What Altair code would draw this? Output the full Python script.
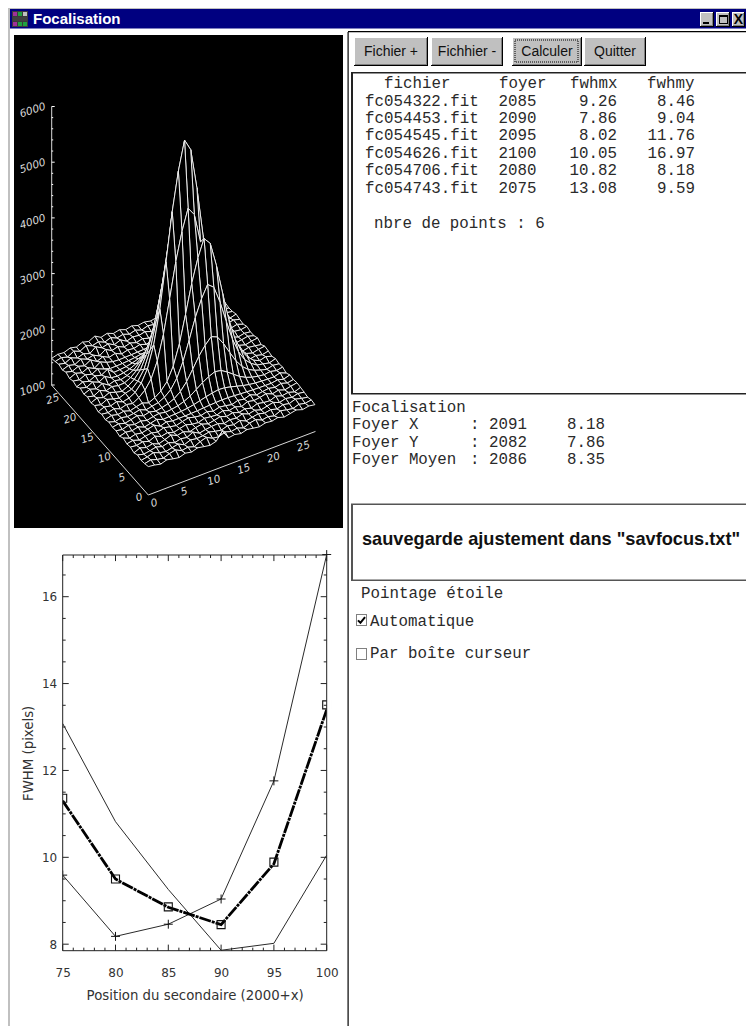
import altair as alt
import pandas as pd

W, H = 738, 1018
OX, OY = 8, 8

# ---- table contents -------------------------------------------------
files = ["fc054322.fit", "fc054453.fit", "fc054545.fit", "fc054626.fit", "fc054706.fit", "fc054743.fit"]
foyer = ["2085", "2090", "2095", "2100", "2080", "2075"]
fwhmx_txt = ["9.26", "7.86", "8.02", "10.05", "10.82", "13.08"]
fwhmy_txt = ["8.46", "9.04", "11.76", "16.97", "8.18", "9.59"]
foc_names = ["Foyer X", "Foyer Y", "Foyer Moyen"]
foc_pos = ["2091", "2082", "2086"]
foc_fwhm = ["8.18", "7.86", "8.35"]
buttons = ["Fichier +", "Fichhier -", "Calculer", "Quitter"]

# ---- FWHM curves ----------------------------------------------------
position = [75, 80, 85, 90, 95, 100]
fwhm_x = [13.08, 10.82, 9.26, 7.86, 8.02, 10.05]
fwhm_y = [9.59, 8.18, 8.46, 9.04, 11.76, 16.97]
fwhm_fit = [11.30, 9.50, 8.85, 8.45, 9.85, 13.40]
fwhm_mean = [11.36, 9.50, 8.86, 8.45, 9.89, 13.51]
x_major = [75, 80, 85, 90, 95, 100]
x_minor = [76, 77, 78, 79, 81, 82, 83, 84, 86, 87, 88, 89, 91, 92, 93, 94, 96, 97, 98, 99]
y_major = [8, 10, 12, 14, 16]
y_minor = [8.5, 9, 9.5, 10.5, 11, 11.5, 12.5, 13, 13.5, 14.5, 15, 15.5, 16.5]

# ---- surface heights, front row first ------
surface = [
 [1510,1495,1470,1505,1480,1462,1498,1475,1510,1488,1470,1500,1640,1478,1495,1470,1500,1482,1465,1495,1480,1505,1470,1492,1515,1478,1500,1482],
 [1490,1515,1480,1460,1500,1525,1470,1490,1455,1505,1540,1480,1465,1510,1475,1495,1455,1500,1520,1470,1490,1460,1510,1485,1465,1500,1475,1495],
 [1475,1495,1530,1485,1465,1490,1515,1460,1505,1485,1495,1520,1490,1470,1505,1480,1515,1465,1490,1510,1478,1500,1468,1505,1482,1520,1490,1470],
 [1500,1470,1490,1515,1480,1510,1465,1495,1475,1530,1468,1490,1505,1512,1470,1500,1485,1520,1475,1500,1465,1490,1515,1470,1500,1478,1505,1488],
 [1465,1510,1475,1500,1455,1490,1530,1480,1505,1460,1495,1515,1478,1498,1525,1482,1510,1470,1495,1465,1505,1480,1470,1510,1475,1495,1460,1500],
 [1495,1480,1505,1470,1520,1475,1500,1460,1490,1515,1482,1470,1505,1490,1480,1515,1475,1500,1462,1510,1485,1500,1525,1478,1505,1465,1490,1510],
 [1480,1500,1462,1490,1505,1480,1515,1490,1470,1500,1525,1495,1480,1510,1475,1505,1490,1465,1500,1480,1515,1470,1490,1505,1480,1510,1475,1495],
 [1510,1465,1495,1475,1500,1530,1470,1505,1481,1483,1484,1488,1493,1501,1509,1515,1520,1518,1511,1503,1495,1489,1485,1483,1481,1500,1470,1505],
 [1470,1500,1485,1510,1465,1490,1520,1475,1483,1488,1495,1509,1530,1558,1588,1612,1630,1623,1597,1566,1536,1513,1498,1489,1483,1480,1510,1465],
 [1495,1475,1510,1480,1500,1470,1495,1512,1488,1500,1520,1556,1612,1688,1768,1832,1880,1860,1792,1708,1628,1568,1528,1504,1488,1505,1478,1500],
 [1485,1505,1470,1495,1525,1480,1505,1478,1499,1528,1576,1662,1795,1977,2168,2321,2436,2388,2226,2025,1834,1690,1595,1537,1499,1470,1500,1485],
 [1505,1470,1500,1475,1490,1515,1470,1495,1516,1571,1662,1826,2081,2426,2790,3082,3300,3209,2900,2517,2153,1880,1698,1589,1516,1495,1470,1505],
 [1475,1510,1480,1500,1465,1495,1520,1480,1531,1609,1737,1969,2329,2817,3332,3743,4052,3923,3486,2946,2432,2046,1789,1634,1531,1480,1510,1475],
 [1500,1485,1515,1470,1505,1480,1543,1636,1793,2074,2512,3106,3731,4232,4607,4451,3919,3262,2637,2168,1855,1668,1543,1510,1475,1500,1470,1495],
 [1470,1515,1490,1525,1480,1505,1566,1694,1908,2293,2891,3704,4559,5244,5757,5543,4816,3918,3062,2421,1993,1737,1566,1485,1505,1470,1495,1510],
 [1510,1480,1535,1500,1475,1520,1548,1650,1820,2126,2602,3248,3928,4472,4880,4710,4132,3418,2738,2228,1888,1684,1548,1510,1475,1500,1485,1465],
 [1485,1530,1495,1545,1505,1480,1532,1610,1740,1974,2338,2832,3352,3768,4080,3950,3508,2962,2442,2052,1792,1636,1532,1480,1505,1470,1495,1510],
 [1520,1490,1550,1500,1535,1510,1516,1570,1660,1822,2074,2416,2776,3064,3280,3190,2884,2506,2146,1876,1696,1588,1516,1500,1470,1490,1510,1478],
 [1495,1540,1505,1560,1490,1525,1501,1533,1585,1680,1827,2026,2236,2404,2530,2478,2299,2079,1869,1711,1606,1543,1501,1480,1505,1465,1490,1475],
 [1530,1500,1555,1510,1570,1505,1491,1508,1535,1585,1662,1766,1876,1964,2030,2003,1909,1794,1684,1601,1546,1513,1491,1505,1470,1495,1480,1500],
 [1480,1525,1495,1550,1520,1585,1485,1493,1505,1528,1563,1610,1660,1700,1730,1718,1675,1623,1573,1535,1510,1495,1485,1470,1500,1478,1505,1465],
 [1510,1490,1540,1505,1560,1515,1482,1485,1489,1497,1510,1527,1545,1559,1570,1566,1550,1531,1513,1500,1491,1485,1482,1505,1470,1490,1510,1480],
 [1485,1535,1500,1550,1495,1570,1520,1490,1481,1484,1488,1492,1498,1504,1510,1508,1502,1496,1490,1485,1482,1475,1500,1468,1495,1480,1470,1500],
 [1525,1495,1545,1510,1575,1505,1550,1495,1525,1470,1500,1485,1515,1475,1505,1490,1465,1510,1480,1500,1470,1495,1478,1505,1485,1465,1495,1475],
 [1490,1530,1500,1560,1515,1545,1490,1565,1500,1530,1480,1510,1475,1505,1470,1495,1515,1480,1495,1465,1505,1475,1490,1510,1470,1500,1480,1465],
 [1520,1495,1550,1505,1540,1500,1580,1520,1550,1490,1535,1470,1505,1490,1515,1475,1500,1465,1490,1510,1480,1500,1470,1495,1478,1462,1505,1480],
 [1495,1525,1490,1555,1510,1570,1525,1555,1505,1545,1495,1520,1480,1510,1470,1505,1485,1495,1470,1500,1475,1490,1510,1465,1495,1480,1470,1490],
 [1480,1510,1500,1540,1515,1560,1530,1585,1520,1550,1505,1530,1490,1515,1480,1500,1475,1495,1465,1490,1505,1470,1495,1480,1465,1490,1475,1480],
]
z_ticks = [1000, 2000, 3000, 4000, 5000, 6000]
xy_ticks = [0, 5, 10, 15, 20, 25]


def px(v):
    return v - OX


def py(v):
    return v - OY


# ---- view of the surface ---------------------------------------------
ORIGIN = (148.3, 495.0)
CELL_X = (6.17, -2.35)
CELL_Y = (-3.58, -4.07)
UNIT_X = (5.97, -2.27)
UNIT_Y = (-3.46, -3.93)
Z_PX = 0.0557


def project(i, j, z):
    return [
        px(ORIGIN[0] + i * CELL_X[0] + j * CELL_Y[0]),
        py(ORIGIN[1] + i * CELL_X[1] + j * CELL_Y[1] - (z - 1000) * Z_PX),
    ]


n = len(surface)
assert all(len(r) == n for r in surface)
features = []
for j in range(n - 2, -1, -1):
    for i in range(n - 2, -1, -1):
        ring = [
            project(i, j, surface[j][i]),
            project(i + 1, j, surface[j][i + 1]),
            project(i + 1, j + 1, surface[j + 1][i + 1]),
            project(i, j + 1, surface[j + 1][i]),
        ]
        ring.append(ring[0])
        features.append({"type": "Feature", "properties": {}, "geometry": {"type": "Polygon", "coordinates": [ring]}})

pix_x = alt.Scale(domain=[0, W], range=[0, W], nice=False, zero=False)
pix_y = alt.Scale(domain=[0, H], range=[0, H], nice=False, zero=False)
X = lambda f: alt.X(f, type="quantitative", scale=pix_x, axis=None)
Y = lambda f: alt.Y(f, type="quantitative", scale=pix_y, axis=None)

# ---- window furniture: painted in order --------------------------------
chrome = []


def box(x0, y0, x1, y1, fill):
    chrome.append({"x0": px(x0), "y0": py(y0), "x1": px(x1), "y1": py(y1), "fill": fill})


GREY = "#c0c0c0"
box(8, 8, 754, 9, GREY)
box(8, 9, 10, 1026, GREY)
box(10, 9, 754, 28.5, "#000080")
box(14, 35, 343, 528, "#000000")
box(347.5, 32, 348.7, 1026, "#000000")
box(348, 31, 754, 32.3, "#000000")

# title bar icon
box(12, 11, 28, 27, "#3a3a3a")
for ix, c in enumerate(["#a0309a", "#20a040", "#c0c0c0"]):
    box(13 + ix * 5, 12, 17 + ix * 5, 16, c)
box(13, 17, 27, 21, "#404040")
for ix, c in enumerate(["#a0309a", "#20a040", "#20a040"]):
    box(13 + ix * 5, 22, 17 + ix * 5, 26, c)

# window buttons
for x0, x1 in [(700, 714), (716, 730), (732, 745)]:
    box(x0, 12, x1, 27, "#000000")
    box(x0, 12, x1 - 1, 26, "#ffffff")
    box(x0 + 1, 13, x1 - 1, 26, "#808080")
    box(x0 + 1, 13, x1 - 2, 25, GREY)
box(703, 22, 709, 24, "#000000")
box(719, 15, 728, 24, "#000000")
box(720, 17, 727, 23, GREY)

# command buttons
btn_x = [(354, 428), (431, 503), (512, 582), (584, 646)]
for x0, x1 in btn_x:
    box(x0, 37, x1, 66, "#000000")
    box(x0, 37, x1 - 1, 65, "#ffffff")
    box(x0 + 1, 38, x1 - 1, 65, "#808080")
    box(x0 + 1, 38, x1 - 2, 64, GREY)

# list box and message box
box(351, 72, 754, 394.5, "#222222")
box(353, 73.5, 754, 393, "#ffffff")
box(351, 503.5, 754, 581, "#555555")
box(353, 505, 754, 579.5, "#ffffff")

# tick boxes
box(356, 614, 367, 626, "#808080")
box(357, 615, 366, 625, "#ffffff")
box(356, 648, 367, 660, "#808080")
box(357, 649, 366, 659, "#ffffff")

layers = [
    alt.Chart(pd.DataFrame(chrome)).mark_rect(strokeWidth=0).encode(
        x=X("x0"), x2=alt.X2("x1"), y=Y("y0"), y2=alt.Y2("y1"),
        fill=alt.Fill("fill:N", scale=None, legend=None),
    )
]

INK = "#2a2a2a"


def label(txt, x, y, font="Liberation Mono", size=15.8, align="left", color=INK, weight="normal", angle=0):
    return alt.Chart().mark_text(
        font=font, fontSize=size, align=align, baseline="middle", color=color, fontWeight=weight, angle=angle
    ).encode(x=alt.value(px(x)), y=alt.value(py(y)), text=alt.value(txt))


layers.append(label("Focalisation", 33, 19, font="Liberation Sans", size=15, color="#ffffff", weight="bold"))
layers.append(label("X", 738.5, 19.5, font="Liberation Sans", size=14, align="center", color="#000000", weight="bold"))

for (x0, x1), t in zip(btn_x, buttons):
    layers.append(label(t, (x0 + x1) / 2, 52, font="Liberation Sans", size=14, align="center", color="#111111"))

layers.append(
    alt.Chart().mark_rect(fillOpacity=0, stroke="#000000", strokeDash=[1, 1], strokeWidth=1).encode(
        x=alt.value(px(515)), x2=alt.value(px(578)), y=alt.value(py(40)), y2=alt.value(py(62))
    )
)

# file table
table = pd.DataFrame({"row": range(len(files)), "file": files, "foyer": foyer, "fx": fwhmx_txt, "fy": fwhmy_txt})
row_y = alt.Y("row:Q", scale=alt.Scale(domain=[0, 5], range=[py(100.5), py(187.5)], nice=False, zero=False), axis=None)
mono = dict(font="Liberation Mono", fontSize=15.8, baseline="middle", color=INK)
layers.append(alt.Chart(table).mark_text(align="left", **mono).encode(x=alt.value(px(365)), y=row_y, text="file:N"))
layers.append(alt.Chart(table).mark_text(align="left", **mono).encode(x=alt.value(px(498.5)), y=row_y, text="foyer:N"))
layers.append(alt.Chart(table).mark_text(align="right", **mono).encode(x=alt.value(px(617)), y=row_y, text="fx:N"))
layers.append(alt.Chart(table).mark_text(align="right", **mono).encode(x=alt.value(px(695)), y=row_y, text="fy:N"))
for t, x in [("fichier", 384), ("foyer", 499), ("fwhmx", 570), ("fwhmy", 647)]:
    layers.append(label(t, x, 83))
layers.append(label("nbre de points : 6", 374, 223))

# focus result
layers.append(label("Focalisation", 352, 406.5))
foc = pd.DataFrame({"row": range(3), "name": foc_names, "pos": [": " + p for p in foc_pos], "w": foc_fwhm})
foc_y = alt.Y("row:Q", scale=alt.Scale(domain=[0, 2], range=[py(424), py(459)], nice=False, zero=False), axis=None)
layers.append(alt.Chart(foc).mark_text(align="left", **mono).encode(x=alt.value(px(352)), y=foc_y, text="name:N"))
layers.append(alt.Chart(foc).mark_text(align="left", **mono).encode(x=alt.value(px(470)), y=foc_y, text="pos:N"))
layers.append(alt.Chart(foc).mark_text(align="left", **mono).encode(x=alt.value(px(567)), y=foc_y, text="w:N"))

layers.append(label('sauvegarde ajustement dans "savfocus.txt"', 362, 540, font="Liberation Sans", size=18.2, weight="bold", color="#111111"))
layers.append(label("Pointage étoile", 361, 593))
layers.append(label("Automatique", 370, 620.5))
layers.append(label("Par boîte curseur", 370, 653))
layers.append(
    alt.Chart().mark_point(shape="M-1,0.1L-0.3,0.8L1,-0.8", filled=False, stroke="#000000", strokeWidth=2, size=50, opacity=1).encode(
        x=alt.value(px(361.5)), y=alt.value(py(620))
    )
)

# ---- surface -------------------------------------------------------------
layers.append(
    alt.Chart(alt.InlineData(values={"type": "FeatureCollection", "features": features},
                             format=alt.DataFormat(property="features", type="json")))
    .mark_geoshape(fill="#000000", stroke="#ececec", strokeWidth=1)
    .project(type="identity", scale=1, translate=[0, 0])
)

# axes of the surface
Z_AXIS_X = 51.7
Z_AXIS_BASE = 385.0
end_x = (ORIGIN[0] + 28 * UNIT_X[0], ORIGIN[1] + 28 * UNIT_X[1])
end_y = (ORIGIN[0] + 28 * UNIT_Y[0], ORIGIN[1] + 28 * UNIT_Y[1])
seg = pd.DataFrame(
    [
        {"x": px(end_x[0]), "y": py(end_x[1]), "x2": px(ORIGIN[0]), "y2": py(ORIGIN[1])},
        {"x": px(ORIGIN[0]), "y": py(ORIGIN[1]), "x2": px(end_y[0]), "y2": py(end_y[1])},
        {"x": px(end_y[0]), "y": py(end_y[1]), "x2": px(Z_AXIS_X), "y2": py(Z_AXIS_BASE)},
        {"x": px(Z_AXIS_X), "y": py(Z_AXIS_BASE), "x2": px(Z_AXIS_X), "y2": py(Z_AXIS_BASE - 5000 * Z_PX)},
    ]
)
layers.append(
    alt.Chart(seg).mark_rule(color="#d8d8d8", strokeWidth=1).encode(x=X("x"), y=Y("y"), x2=alt.X2("x2"), y2=alt.Y2("y2"))
)
z_tick_rows = []
for k in range(0, 26):
    z = 1000 + k * 200
    yy = py(Z_AXIS_BASE - (z - 1000) * Z_PX)
    ln = 3 if k % 5 == 0 else 1.5
    z_tick_rows.append({"x": px(Z_AXIS_X), "x2": px(Z_AXIS_X + ln), "y": yy})
layers.append(
    alt.Chart(pd.DataFrame(z_tick_rows)).mark_rule(color="#ffffff", strokeWidth=1).encode(x=X("x"), x2=alt.X2("x2"), y=Y("y"))
)
tick_font = dict(font="DejaVu Sans", fontSize=10.5, fontStyle="italic", color="#d8d8d8", baseline="middle", align="center", angle=342)
z_lab = pd.DataFrame({"t": [str(v) for v in z_ticks],
                      "x": [px(Z_AXIS_X - 19) for _ in z_ticks],
                      "y": [py(Z_AXIS_BASE + 4 - (v - 1000) * Z_PX) for v in z_ticks]})
layers.append(alt.Chart(z_lab).mark_text(**tick_font).encode(x=X("x"), y=Y("y"), text="t:N"))
x_lab = pd.DataFrame({"t": [str(v) for v in xy_ticks],
                      "x": [px(ORIGIN[0] + 6 + v * UNIT_X[0]) for v in xy_ticks],
                      "y": [py(ORIGIN[1] + 8.3 + v * UNIT_X[1]) for v in xy_ticks]})
layers.append(alt.Chart(x_lab).mark_text(**tick_font).encode(x=X("x"), y=Y("y"), text="t:N"))
y_lab = pd.DataFrame({"t": [str(v) for v in xy_ticks],
                      "x": [px(ORIGIN[0] - 9 + v * UNIT_Y[0]) for v in xy_ticks],
                      "y": [py(ORIGIN[1] + 2.5 + v * UNIT_Y[1]) for v in xy_ticks]})
layers.append(alt.Chart(y_lab).mark_text(**tick_font).encode(x=X("x"), y=Y("y"), text="t:N"))

# ---- FWHM plot ------------------------------------------------------------
X_MIN, X_MAX = 75, 100
Y_MIN, Y_MAX = 7.85, 16.96
fx = alt.Scale(domain=[X_MIN, X_MAX], range=[px(62.7), px(326.7)], nice=False, zero=False)
fy = alt.Scale(domain=[Y_MIN, Y_MAX], range=[py(950.7), py(555)], nice=False, zero=False)
FX = lambda f: alt.X(f, type="quantitative", scale=fx, axis=None)
FY = lambda f: alt.Y(f, type="quantitative", scale=fy, axis=None)
curves = pd.DataFrame({"p": position, "fx": fwhm_x, "fy": fwhm_y, "fit": fwhm_fit, "mean": fwhm_mean})
PLOT_INK = "#2a2a2a"
AX_FONT = dict(labelFont="DejaVu Sans", labelFontSize=12, labelColor="#333333",
               titleFont="DejaVu Sans", titleFontSize=13.3, titleColor="#333333", titleFontWeight="normal",
               domain=False, ticks=False, grid=False, labelFlush=False, labelOverlap=False)
layers.append(
    alt.Chart(curves).mark_line(color=PLOT_INK, strokeWidth=1).encode(
        x=alt.X("p:Q", scale=fx, axis=alt.Axis(orient="bottom", offset=py(950.7) - H, values=x_major, format="d",
                                               title="Position du secondaire (2000+x)", labelPadding=17, titlePadding=10, **AX_FONT)),
        y=alt.Y("fx:Q", scale=fy, axis=alt.Axis(orient="left", offset=-px(62.7), values=y_major, format="d",
                                                title="FWHM (pixels)", labelPadding=6, titlePadding=6, **AX_FONT)),
    )
)
layers.append(alt.Chart(curves).mark_line(color=PLOT_INK, strokeWidth=1).encode(x=FX("p"), y=FY("fy")))
layers.append(alt.Chart(curves).mark_point(shape="M-1,0L1,0M0,-1L0,1", filled=False, color="#111111", strokeWidth=1, size=80, opacity=1).encode(x=FX("p"), y=FY("fy")))
layers.append(alt.Chart(curves).mark_line(color="#000000", strokeWidth=2.8, strokeDash=[12, 1, 3, 1]).encode(x=FX("p"), y=FY("fit")))
layers.append(alt.Chart(curves).mark_point(shape="square", filled=False, color="#111111", strokeWidth=1.1, size=64, opacity=1).encode(x=FX("p"), y=FY("mean")))

# markers stop at the frame
mask = pd.DataFrame({"a": [X_MIN - 0.5, X_MAX], "b": [X_MIN, X_MAX + 0.5], "lo": [Y_MIN, Y_MIN], "hi": [Y_MAX, Y_MAX]})
layers.append(alt.Chart(mask).mark_rect(color="#ffffff", strokeWidth=0).encode(x=FX("a"), x2=alt.X2("b"), y=FY("lo"), y2=alt.Y2("hi")))

frame = pd.DataFrame({"a": [X_MIN], "b": [X_MAX], "lo": [Y_MIN], "hi": [Y_MAX]})
layers.append(alt.Chart(frame).mark_rect(fillOpacity=0, stroke="#222222", strokeWidth=1).encode(x=FX("a"), x2=alt.X2("b"), y=FY("lo"), y2=alt.Y2("hi")))

MAJ_X, MIN_X = 0.57, 0.28
MAJ_Y, MIN_Y = 0.14, 0.07
h_rows = []
for v, d in [(a, MAJ_Y) for a in x_major] + [(a, MIN_Y) for a in x_minor]:
    h_rows.append({"v": v, "a": Y_MIN, "b": Y_MIN + d})
    h_rows.append({"v": v, "a": Y_MAX, "b": Y_MAX - d})
v_rows = []
for v, d in [(a, MAJ_X) for a in y_major] + [(a, MIN_X) for a in y_minor]:
    v_rows.append({"v": v, "a": X_MIN, "b": X_MIN + d})
    v_rows.append({"v": v, "a": X_MAX, "b": X_MAX - d})
layers.append(alt.Chart(pd.DataFrame(h_rows)).mark_rule(color="#222222", strokeWidth=1).encode(x=FX("v"), y=FY("a"), y2=alt.Y2("b")))
layers.append(alt.Chart(pd.DataFrame(v_rows)).mark_rule(color="#222222", strokeWidth=1).encode(y=FY("v"), x=FX("a"), x2=alt.X2("b")))

chart = (
    alt.layer(*layers)
    .resolve_scale(x="independent", y="independent")
    .properties(width=W, height=H, padding=0, background="#ffffff",
                autosize=alt.AutoSizeParams(type="none"))
    .configure_view(stroke=None)
)
chart.save("out.html", embed_options={"renderer": "svg", "actions": False})
